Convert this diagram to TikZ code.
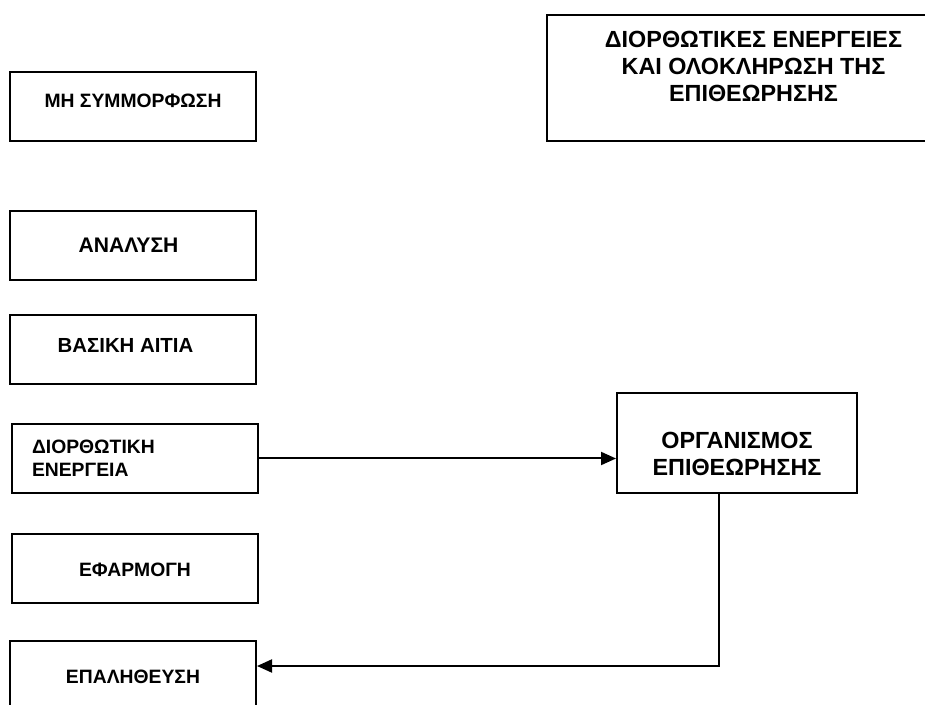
\documentclass[tikz,border=0pt]{standalone}
\usepackage{fontspec}
\setmainfont{Liberation Sans}
\usetikzlibrary{arrows.meta}

\begin{document}
\begin{tikzpicture}[
                box/.style={draw, line width=0.04cm, minimum width=4.92cm,
                            minimum height=1.38cm, inner sep=0pt,
                            font=\fontsize{11}{13}\selectfont\bfseries},
                capline/.style={text height=0.3cm, text depth=#1},
                capline/.default=0cm,
                large/.style={font=\fontsize{13.3}{15.4}\selectfont\bfseries},
                link/.style={line width=0.04cm, color=black,
                             -{Triangle[length=0.3cm, width=0.26cm]}}]
                \useasboundingbox (0, 0) rectangle (18.5, 14.08);

                \node[box, capline=0.24cm] (nonconf) at (2.66, 11.95) {ΜΗ ΣΥΜΜΟΡΦΩΣΗ};
                \node[box, capline, font=\fontsize{12}{14}\selectfont\bfseries] (analysis) at (2.66, 9.17)
                    {ΑΝΑΛΥΣΗ\kern0.18cm};
                \node[box, capline=0.18cm, font=\fontsize{11.6}{14}\selectfont\bfseries] (cause) at (2.66, 7.09)
                    {ΒΑΣΙΚΗ ΑΙΤΙΑ\kern0.3cm};
                \node[box, align=left, text width=4.12cm, inner xsep=0.4cm] (action) at (2.70, 4.91)
                    {ΔΙΟΡΘΩΤΙΚΗ\\ΕΝΕΡΓΕΙΑ};
                \node[box, capline] (apply) at (2.70, 2.71) {ΕΦΑΡΜΟΓΗ};
                \node[box, capline] (verif) at (2.66, 0.57) {ΕΠΑΛΗΘΕΥΣΗ};

                \node[box, large, align=center, minimum width=8.26cm, minimum height=2.52cm,
                      text depth=0.48cm] (closing) at (15.07, 12.52)
                    {ΔΙΟΡΘΩΤΙΚΕΣ ΕΝΕΡΓΕΙΕΣ\\ΚΑΙ ΟΛΟΚΛΗΡΩΣΗ ΤΗΣ\\ΕΠΙΘΕΩΡΗΣΗΣ};
                \node[box, large, align=center, minimum width=4.8cm, minimum height=2.0cm,
                      text height=1.3cm, text depth=0cm] (body) at (14.74, 5.22)
                    {ΟΡΓΑΝΙΣΜΟΣ\\ΕΠΙΘΕΩΡΗΣΗΣ};

                \coordinate (bend) at (14.38, 0.76);

                \draw[link] (action.east) -- (action.east -| body.west);
                \draw[link] (body.south -| bend) -- (bend) -- (bend -| verif.east);
            \end{tikzpicture}
\end{document}
